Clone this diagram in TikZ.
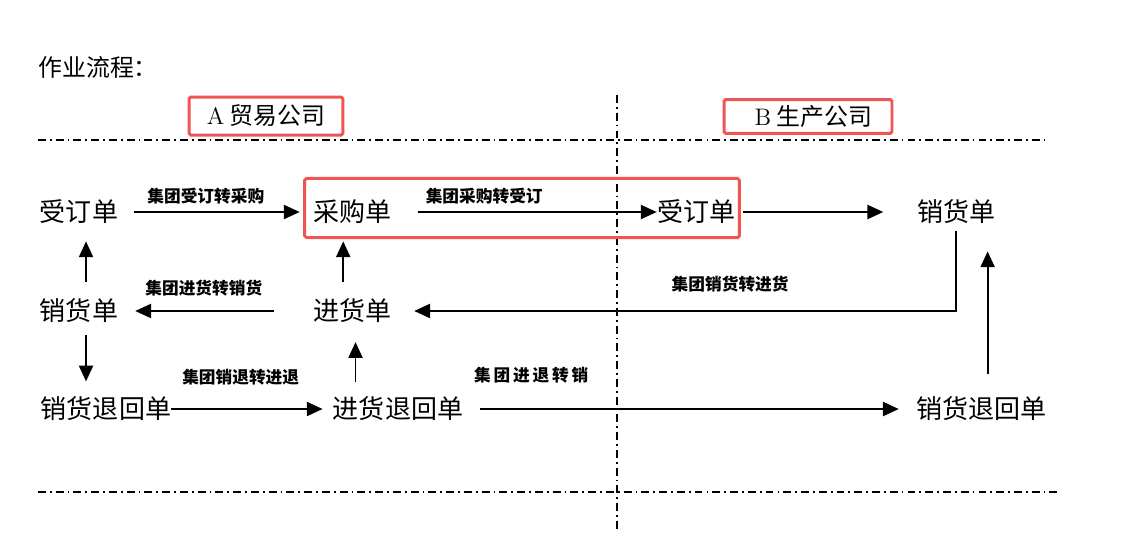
\documentclass[tikz,border=0pt]{standalone}
\usepackage{fontspec}
\newfontfamily\cjk{Noto Sans CJK SC}
\usepackage{tikz}
\usetikzlibrary{positioning, arrows.meta}
\definecolor{boxred}{RGB}{240,84,84}

\begin{document}
\begin{tikzpicture}[x=0.02cm, y=-0.02cm, node distance=1.98cm, >={Triangle[length=9pt,width=8pt]}]

% Define styles
\tikzstyle{doc} = [font=\cjk\fontsize{14.8}{16}\selectfont, inner sep=0pt, text height=13pt, text depth=2pt]
\tikzstyle{tag} = [font=\cjk\bfseries\fontsize{9.5}{11}\selectfont, inner sep=1pt]
\tikzstyle{company} = [draw=boxred, line width=1.7pt, rounded corners=1pt, font=\cjk\fontsize{13.6}{15}\selectfont]
\tikzstyle{flow} = [->, line width=1.1pt]
\tikzstyle{divider} = [line width=1pt, dash pattern=on 4.5pt off 2.3pt on 1pt off 2.3pt]

\useasboundingbox (0,0) rectangle (1122,539);

% Dividers
\coordinate (topL) at (38,140);
\coordinate (topR) at (1045,140);
\coordinate (botL) at (38,492);
\coordinate (botR) at (1058,492);
\coordinate (midT) at (617,95);
\coordinate (midB) at (617,530);
\draw [divider] (topL) -- (topR);
\draw [divider] (botL) -- (botR);
\draw [divider] (midT) -- (midB);

% Headings
\node [anchor=west, inner sep=0pt, font=\cjk\fontsize{13.6}{15}\selectfont] (title) at (38,67) {作业流程：};
\node [company, minimum width=3.08cm, minimum height=0.76cm] (compA) at (266,116) {{\rmfamily A} 贸易公司};
\node [company, minimum width=3.36cm, minimum height=0.66cm] (compB) at (808,116.5) {\hspace{6pt}{\rmfamily B} 生产公司};

% Nodes
\node [doc] (ddA) at (79,212) {受订单};
\node [doc] (cgd) at (352,212) {采购单};
\node [doc] (ddB) at (696,212) {受订单};
\node [doc] (xhB) at (956,212) {销货单};
\node [doc, below of=ddA] (xhA) {销货单};
\node [doc, below of=cgd] (jhd) {进货单};
\node [doc] (xthA) at (106,409) {销货退回单};
\node [doc] (jthd) at (398,409) {进货退回单};
\node [doc] (xthB) at (981,409) {销货退回单};

% Group box
\draw [boxred, line width=1.7pt, rounded corners=1pt] ([shift={(-8,-20)}]cgd.north west) rectangle ([shift={(4,12)}]ddB.south east);

% Connections
\draw [flow, shorten <=9pt, shorten >=7.4pt] (ddA.east) -- node[tag, pos=0.45, above=3pt] {集团受订转采购} (cgd.west);
\draw [flow, shorten <=15pt] (cgd.east) -- node[tag, pos=0.35, above=3pt] {集团采购转受订} (ddB.west);
\draw [flow, shorten <=4.5pt, shorten >=19pt] (ddB.east) -- (xhB.west);
\draw [flow, shorten <=22pt, shorten >=9.6pt] (jhd.west) -- node[tag, pos=0.56, above=7pt] {集团进货转销货} (xhA.east);
\draw [flow, shorten <=3pt, shorten >=13pt] (xhB.south) |- node[tag, pos=0.70, above=9pt] {集团销货转进货} (jhd.east);
\draw [flow, shorten >=5.7pt] (xthA.east) -- node[tag, pos=0.43, above=12pt] {集团销退转进退} (jthd.west);
\draw [flow, shorten <=9.6pt, shorten >=9.6pt] (jthd.east) -- node[tag, pos=0.15, above=13pt] {集\,团\,进\,退\,转\,销} (xthB.west);
\draw [flow, shorten <=9pt, shorten >=9pt] ([xshift=4pt]xhA.north) -- ([xshift=4pt]ddA.south);
\draw [flow, shorten <=9pt, shorten >=9pt] ([xshift=-5pt]jhd.north) -- ([xshift=-5pt]cgd.south);
\draw [flow, shorten <=6pt, shorten >=8pt] ([xshift=4pt]xhA.south) -- ([xshift=4pt]xhA.south |- xthA.north);
\draw [flow, shorten <=7.4pt, shorten >=10pt] ([xshift=2pt]jhd.south |- jthd.north) -- ([xshift=2pt]jhd.south);
\draw [flow, shorten <=12pt, shorten >=14.7pt] ([xshift=18pt]xhB.south |- xthB.north) -- ([xshift=18pt]xhB.south);

\end{tikzpicture}
\end{document}
